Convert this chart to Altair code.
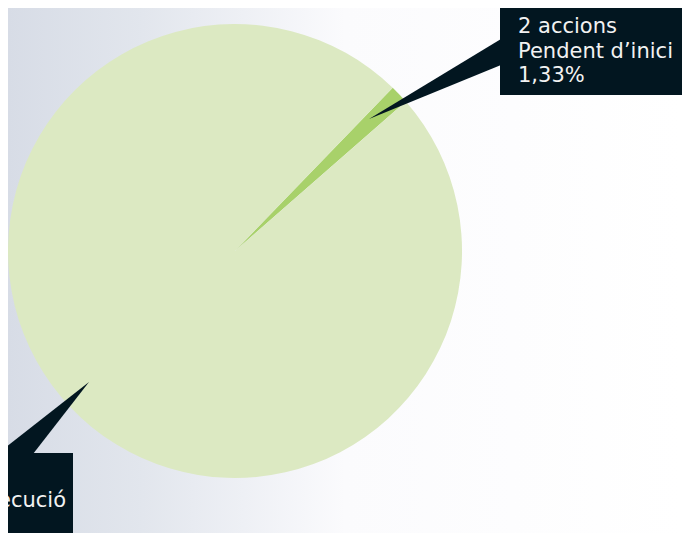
import altair as alt
import pandas as pd
import math

# Data
statuses = ["Pendent d'inici", "En execució"]
counts = [2, 148]
pct_labels = ["1,33%", "98,67%"]
slice_colors = ["#a8d16a", "#dce9c2"]

top_lines = ["2 accions", "Pendent d\u2019inici", "1,33%"]
bottom_lines = ["En execució"]

OFF = 8  # page margin
W, H = 690 - 2 * OFF, 543 - 2 * OFF - 2
CX, CY, R = 235 - OFF, 251 - OFF, 227
START = math.radians(44.0)
BOX = "#021620"
FONT = "DejaVu Sans"

pie_df = pd.DataFrame({"status": statuses, "count": counts, "idx": [0, 1]})

bg = alt.Chart(pd.DataFrame({"a": [0]})).mark_rect(
    color=alt.Gradient(
        gradient="linear",
        stops=[
            alt.GradientStop(color="#d7dce6", offset=0),
            alt.GradientStop(color="#e2e6ed", offset=0.2),
            alt.GradientStop(color="#eef0f5", offset=0.35),
            alt.GradientStop(color="#fbfbfd", offset=0.5),
            alt.GradientStop(color="#ffffff", offset=1),
        ],
        x1=0, x2=1, y1=0, y2=0,
    )
).encode(x=alt.value(0), x2=alt.value(W), y=alt.value(0), y2=alt.value(H))

pie = alt.Chart(pie_df).mark_arc(outerRadius=R, stroke=None).encode(
    theta=alt.Theta("count:Q", stack=True,
                    scale=alt.Scale(range=[START, START + 2 * math.pi])),
    order=alt.Order("idx:Q"),
    color=alt.Color("status:N", scale=alt.Scale(domain=statuses, range=slice_colors), legend=None),
    x=alt.value(CX),
    y=alt.value(CY),
)

# callout boxes
box_top = alt.Chart(pd.DataFrame({"a": [0]})).mark_rect(color=BOX).encode(
    x=alt.value(500 - OFF), x2=alt.value(W + 2), y=alt.value(4 - OFF), y2=alt.value(95 - OFF))
box_bot = alt.Chart(pd.DataFrame({"a": [0]})).mark_rect(color=BOX).encode(
    x=alt.value(-20), x2=alt.value(73 - OFF), y=alt.value(453 - OFF), y2=alt.value(H + 2))

# pointers (custom triangle shapes, size=4 -> path in pixels)
ptr_top = alt.Chart(pd.DataFrame({"a": [0]})).mark_point(
    shape="M0,0 L132,-80 L132,-54 Z", size=4, filled=True, color=BOX, opacity=1, strokeWidth=0
).encode(x=alt.value(369 - OFF), y=alt.value(119 - OFF))
ptr_bot = alt.Chart(pd.DataFrame({"a": [0]})).mark_point(
    shape="M0,0 L-92,72 L-56,72 Z", size=4, filled=True, color=BOX, opacity=1, strokeWidth=0
).encode(x=alt.value(89 - OFF), y=alt.value(382 - OFF))

top_df = pd.DataFrame({"t": top_lines, "i": [0, 1, 2]})
txt_top = alt.Chart(top_df).mark_text(
    align="left", baseline="alphabetic", font=FONT, fontSize=21, color="#f2f2f2"
).encode(
    x=alt.value(518 - OFF),
    y=alt.Y("i:Q", scale=alt.Scale(domain=[0, 2], range=[33 - OFF, 82 - OFF]), axis=None),
    text="t:N",
)
bot_df = pd.DataFrame({"t": bottom_lines})
txt_bot = alt.Chart(bot_df).mark_text(
    align="right", baseline="alphabetic", font=FONT, fontSize=21, color="#f2f2f2"
).encode(x=alt.value(66 - OFF), y=alt.value(507 - OFF), text="t:N")

chart = alt.layer(bg, pie, ptr_top, ptr_bot, box_top, box_bot, txt_top, txt_bot).resolve_scale(
    y="independent", color="independent"
).properties(
    width=W, height=H, padding=0, autosize="none"
).configure_view(stroke=None).configure(background="white")

chart.save("out.html", embed_options={"renderer": "svg", "actions": False})
